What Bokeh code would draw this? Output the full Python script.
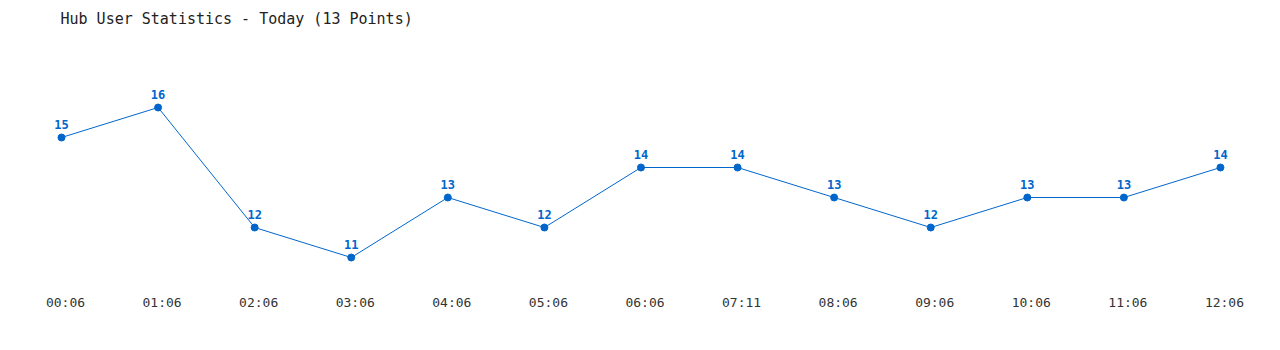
from bokeh.plotting import figure
from bokeh.models import ColumnDataSource, Range1d, FixedTicker, Label, LinearAxis
from bokeh.core.properties import value
from bokeh.embed import file_html
from bokeh.resources import INLINE

times = ["00:06", "01:06", "02:06", "03:06", "04:06", "05:06", "06:06",
         "07:11", "08:06", "09:06", "10:06", "11:06", "12:06"]
users = [15, 16, 12, 11, 13, 12, 14, 14, 13, 12, 13, 13, 14]
title_text = "Hub User Statistics - Today (13 Points)"

BLUE = "#0066cc"
FONT = "DejaVu Sans Mono"

idx = list(range(len(times)))
src = ColumnDataSource(dict(x=idx, y=users, lab=[str(v) for v in users]))

W, H = 1280, 350
frame_h = 281
step = 96.58
x0 = -61 / step
x1 = x0 + W / step
ytop = 16 + 107 / 30
ybot = ytop - frame_h / 30

p = figure(width=W, height=H, output_backend="svg", toolbar_location=None,
           x_range=Range1d(x0, x1), y_range=Range1d(ybot, ytop),
           x_axis_location=None, y_axis_location=None,
           min_border_left=0, min_border_right=0, min_border_top=0,
           min_border_bottom=H - frame_h)
p.outline_line_color = None
p.grid.visible = False
p.background_fill_color = "white"
p.border_fill_color = "white"

# tick labels sit a few pixels right of the points in the reference
shift = 4 / step
p.extra_x_ranges = {"lab": Range1d(x0 - shift, x1 - shift)}
ax = LinearAxis(x_range_name="lab")
ax.ticker = FixedTicker(ticks=idx)
ax.major_label_overrides = {i: t for i, t in enumerate(times)}
ax.axis_line_color = None
ax.major_tick_line_color = None
ax.minor_tick_line_color = None
ax.major_label_text_font = FONT
ax.major_label_text_font_size = "13px"
ax.major_label_text_color = "#333333"
ax.major_label_standoff = 7
p.add_layout(ax, "below")

p.line("x", "y", source=src, color=BLUE, line_width=1)
p.scatter("x", "y", source=src, size=7, color=BLUE)
p.text("x", "y", text="lab", source=src, text_align="center",
       text_baseline="bottom", y_offset=-9, text_color=BLUE,
       text_font=value(FONT), text_font_size="12px", text_font_style="bold")

p.add_layout(Label(x=x0 + 60 / step, y=ytop - 18 / 30,
                   text=title_text, text_font=FONT, text_font_size="15px",
                   text_baseline="middle", text_align="left",
                   text_color="#222222"))

open("out.html", "w").write(file_html(p, INLINE))
